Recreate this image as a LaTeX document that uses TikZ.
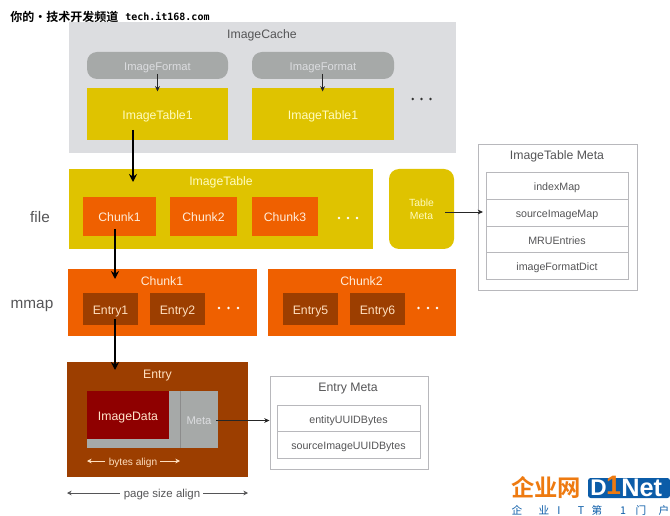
\documentclass[tikz,border=0pt]{standalone}
\usepackage{fontspec}
\setmainfont{Liberation Sans}
\newfontfamily\cjkf{Noto Sans CJK SC}[BoldFont={Noto Sans CJK SC Bold}]
\newfontfamily\monof{DejaVu Sans Mono}
\definecolor{cachegray}{HTML}{DCDDE0}
\definecolor{fmtgray}{HTML}{A6A9A8}
\definecolor{ylw}{HTML}{DFC300}
\definecolor{org}{HTML}{EF6000}
\definecolor{brn}{HTML}{9C3E00}
\definecolor{dred}{HTML}{8F0000}
\definecolor{txtd}{HTML}{555557}
\definecolor{edgeg}{HTML}{B8B8BC}
\definecolor{lkblue}{HTML}{0B5CA8}
\definecolor{lkorg}{HTML}{EE7A10}
\usetikzlibrary{arrows.meta}
\tikzset{
  px/.style={x=.75pt,y=-.75pt},
  lbl/.style={font=\fontsize{9.2pt}{11pt}\selectfont,inner sep=0pt,text height=10pt,text depth=1.8pt},
  lightlbl/.style={lbl,text=#1},
  darklbl/.style={lbl,text=txtd},
  smtwo/.style={font=\fontsize{7.8pt}{10pt}\selectfont,align=center},
  sm/.style={font=\fontsize{8.4pt}{10pt}\selectfont,text height=9pt,text depth=1.7pt},
  cell/.style={draw=edgeg,line width=.6pt,fill=white,text=txtd,font=\fontsize{8pt}{10pt}\selectfont,text height=8.8pt,text depth=1.6pt},
  frame/.style={draw=edgeg,line width=.7pt,fill=white},
  conn/.style={-{Stealth[length=6pt,width=6pt]},black,line width=1pt},
  thin conn/.style={-{Stealth[length=4pt,width=3.6pt]},black!85,line width=.6pt},
  dim/.style={{Stealth[length=3.5pt,width=3.5pt]}-,line width=.7pt},
  dimend/.style={-{Stealth[length=3.5pt,width=3.5pt]},line width=.7pt},
  dotn/.style={circle,fill=#1,inner sep=0pt,minimum size=2pt},
}
\newcommand{\bx}[7]{% name, style, x1,y1,x2,y2, text
  \pgfmathsetmacro{\cxx}{(#3+#5)/2}\pgfmathsetmacro{\cyy}{(#4+#6)/2}%
  \pgfmathsetmacro{\www}{(#5-#3)*.75}\pgfmathsetmacro{\hhh}{(#6-#4)*.75}%
  \node[#2,inner sep=0pt,minimum width=\www pt,minimum height=\hhh pt,anchor=center] (#1) at (\cxx,\cyy) {#7};}
\begin{document}
\begin{tikzpicture}[px]
\useasboundingbox (0,0) rectangle (670,516);
% ImageCache
\bx{cache}{fill=cachegray}{69}{22}{456}{153}{}
\node[darklbl] (cachet) at (262,33) {ImageCache};
\bx{fmtA}{fill=fmtgray,rounded corners=7.5pt,text=cachegray,sm}{87}{52}{228}{79}{ImageFormat}
\bx{fmtB}{fill=fmtgray,rounded corners=7.5pt,text=cachegray,sm}{252}{52}{394}{79}{ImageFormat}
\bx{tblA}{fill=ylw,text=yellow!25!white,lbl}{87}{88}{228}{140}{ImageTable1}
\bx{tblB}{fill=ylw,text=yellow!25!white,lbl}{252}{88}{394}{140}{ImageTable1}
\foreach \n/\x in {1/412.7,2/421.5,3/430.5}{\node[dotn=black!80] (cd\n) at (\x,99) {};}
% ImageTable
\bx{itab}{fill=ylw}{69}{169}{373}{249}{}
\node[lightlbl=yellow!25!white] (itabt) at (221,180.5) {ImageTable};
\bx{cA}{fill=org,text=orange!15!white,lbl}{83}{197}{156}{236}{Chunk1}
\bx{cB}{fill=org,text=orange!15!white,lbl}{170}{197}{237}{236}{Chunk2}
\bx{cC}{fill=org,text=orange!15!white,lbl}{252}{197}{318}{236}{Chunk3}
\foreach \n/\x in {1/339,2/348,3/357}{\node[dotn=white] (td\n) at (\x,218) {};}
\bx{tmeta}{fill=ylw,rounded corners=7.5pt,text=yellow!25!white,smtwo}{389}{169}{454}{249}{Table\\Meta}
\node[darklbl,font=\fontsize{11.5pt}{13pt}\selectfont] (filel) at (40,217) {file};
\node[darklbl,font=\fontsize{11.5pt}{13pt}\selectfont] (mmapl) at (32,303) {mmap};
% Chunk row
\bx{chA}{fill=org}{68}{269}{257}{336}{}
\node[lightlbl=orange!15!white] (chAt) at (162,280) {Chunk1};
\bx{chB}{fill=org}{267.5}{269}{456}{336}{}
\node[lightlbl=orange!15!white] (chBt) at (361.5,280) {Chunk2};
\bx{eA}{fill=brn,text=orange!25!white,lbl}{83}{293}{138}{325}{Entry1}
\bx{eB}{fill=brn,text=orange!25!white,lbl}{150}{293}{205}{325}{Entry2}
\bx{eC}{fill=brn,text=orange!25!white,lbl}{283}{293}{338}{325}{Entry5}
\bx{eD}{fill=brn,text=orange!25!white,lbl}{350}{293}{405}{325}{Entry6}
\foreach \n/\x in {1/219,2/228.5,3/238}{\node[dotn=white] (ed\n) at (\x,308) {};}
\foreach \n/\x in {1/418.5,2/428,3/437}{\node[dotn=white] (fd\n) at (\x,308) {};}
% Entry
\bx{entry}{fill=brn}{67}{362}{248}{477}{}
\node[lightlbl=orange!25!white] (entryt) at (157.5,373.5) {Entry};
\bx{grayb}{fill=fmtgray}{87}{391}{218}{448}{}
\bx{idata}{fill=dred,text=orange!20!white,lbl}{87}{391}{169}{439}{ImageData}
\coordinate (divT) at (180,391); \coordinate (divB) at (180,448);
\draw[black!45,line width=.7pt] (divT) -- (divB);
\node[sm,text=cachegray,inner sep=0pt] (metat) at (199,420) {Meta};
\node[sm,font=\fontsize{7.6pt}{10pt}\selectfont,text=orange!25!white,inner sep=0pt] (bytes) at (133,461) {bytes align};
\coordinate (bL) at (87,461); \coordinate (bR) at (180,461);
\coordinate (bM1) at (105,461); \coordinate (bM2) at (160,461);
\draw[dim,orange!25!white] (bL) -- (bM1);
\draw[dimend,orange!25!white] (bM2) -- (bR);
\node[sm,font=\fontsize{8.6pt}{10pt}\selectfont,text=txtd,inner sep=0pt] (page) at (162,493) {page size align};
\coordinate (pL) at (67,493); \coordinate (pR) at (248,493);
\coordinate (pM1) at (120,493); \coordinate (pM2) at (203,493);
\draw[dim,txtd] (pL) -- (pM1);
\draw[dimend,txtd] (pM2) -- (pR);
% ImageTable Meta
\bx{itm}{frame}{478}{144}{637}{290}{}
\node[darklbl] (itmt) at (557,154) {ImageTable Meta};
\bx{r1}{cell}{486}{172}{628}{199}{indexMap}
\bx{r2}{cell}{486}{199}{628}{226}{sourceImageMap}
\bx{r3}{cell}{486}{226}{628}{252.5}{MRUEntries}
\bx{r4}{cell}{486}{252.5}{628}{279}{imageFormatDict}
% Entry Meta
\bx{em}{frame}{270}{376}{428}{469}{}
\node[darklbl] (emt) at (348,386) {Entry Meta};
\bx{s1}{cell}{277}{405}{420}{431.5}{entityUUIDBytes}
\bx{s2}{cell}{277}{431.5}{420}{458}{sourceImageUUIDBytes}
% connectors
\coordinate (a1) at (133,130); \coordinate (a2) at (133,182);
\draw[conn] (a1) -- (a2);
\coordinate (b1) at (115,229); \coordinate (b2) at (115,279);
\draw[conn] (b1) -- (b2);
\coordinate (c1) at (115,319); \coordinate (c2) at (115,370);
\draw[conn] (c1) -- (c2);
\coordinate (f1) at (157.5,74); \coordinate (g1) at (157.5,91.5);
\draw[thin conn] (f1) -- (g1);
\coordinate (f2) at (322.6,74); \coordinate (g2) at (322.6,91.5);
\draw[thin conn] (f2) -- (g2);
\coordinate (m1) at (445,212); \coordinate (m2) at (483,212);
\draw[thin conn] (m1) -- (m2);
\coordinate (n1) at (216,420.5);
\draw[thin conn] (n1) -- (em.west |- n1);
% watermark
\node[anchor=west,inner sep=0pt,font=\cjkf\bfseries\fontsize{9pt}{10pt}\selectfont] (wmA) at (10,17) {你的·技术开发频道};
\node[anchor=west,inner sep=0pt,font=\monof\bfseries\fontsize{7.5pt}{9pt}\selectfont] (wmB) at (125,17) {tech.it168.com};
% logo
\node[anchor=west,inner sep=0pt,text=lkorg,font=\cjkf\bfseries\fontsize{17.5pt}{19pt}\selectfont] (lgA) at (511,488) {企业网};
\bx{lgB}{fill=lkblue,rounded corners=2pt}{588}{478}{670}{498}{}
\node[anchor=center,inner sep=0pt,text=white,font=\bfseries\fontsize{17pt}{18pt}\selectfont] (lgD) at (598.5,488) {D};
\node[anchor=center,inner sep=0pt,text=lkorg,font=\bfseries\fontsize{20pt}{21pt}\selectfont] (lg1) at (613.5,485.5) {1};
\node[anchor=west,inner sep=0pt,text=white,font=\bfseries\fontsize{19pt}{20pt}\selectfont] (lgN) at (621,488) {Net};
\foreach \n/\x/\t in {1/517/企,2/544/业,3/559/I,4/581/T,5/597/第,6/623/1,7/641/门,8/664/户}{
  \node[inner sep=0pt,text=lkblue,font=\cjkf\fontsize{8pt}{9pt}\selectfont] (lt\n) at (\x,510.5) {\t};}
\end{tikzpicture}
\end{document}
